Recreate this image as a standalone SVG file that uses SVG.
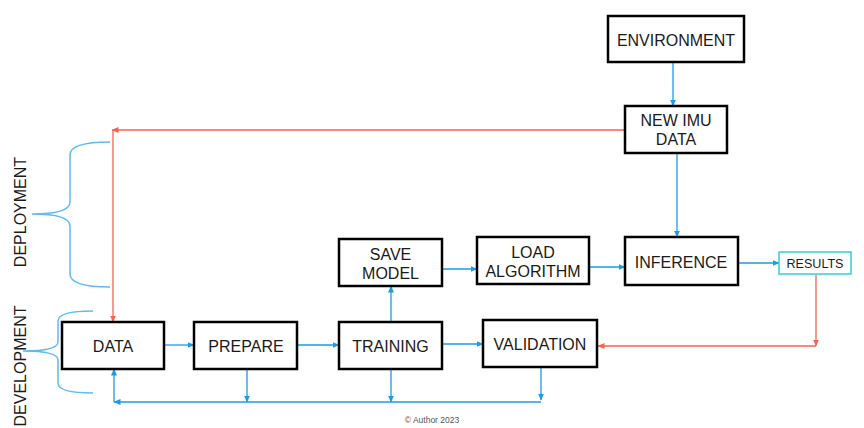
<svg xmlns="http://www.w3.org/2000/svg" width="864" height="428" viewBox="0 0 864 428">
<style>
.box{fill:#fff;stroke:#000;stroke-width:2.5}
.res{fill:#fff;stroke:#2ED3CF;stroke-width:1.5}
.t{font-family:"Liberation Sans",Arial,sans-serif;font-size:16px;fill:#1a1a1a;text-anchor:middle}
.side{font-family:"Liberation Sans",Arial,sans-serif;font-size:16px;fill:#1a1a1a;text-anchor:middle}
.b{fill:none;stroke:#1A9BE8;stroke-width:1.3}
.r{fill:none;stroke:#F26552;stroke-width:1.3}
.br{fill:none;stroke:#5BBDF0;stroke-width:1.5}
</style>
<defs>
<marker id="ab" markerUnits="userSpaceOnUse" markerWidth="7" markerHeight="7" refX="6.5" refY="3.5" orient="auto"><path d="M0,0.5 L7,3.5 L0,6.5 z" fill="#1A9BE8"/></marker>
<marker id="ar" markerUnits="userSpaceOnUse" markerWidth="7" markerHeight="7" refX="6.5" refY="3.5" orient="auto"><path d="M0,0.5 L7,3.5 L0,6.5 z" fill="#F26552"/></marker>
</defs>
<rect width="864" height="428" fill="#fff"/>
<g id="connectors">
<path class="b" d="M673,63 V106" marker-end="url(#ab)"/>
<path class="b" d="M677,154 V237" marker-end="url(#ab)"/>
<path class="b" d="M443,269 H477" marker-end="url(#ab)"/>
<path class="b" d="M590,267 H625" marker-end="url(#ab)"/>
<path class="b" d="M739,263 H779" marker-end="url(#ab)"/>
<path class="b" d="M391,321 V286" marker-end="url(#ab)"/>
<path class="b" d="M165,345 H194" marker-end="url(#ab)"/>
<path class="b" d="M298,345 H339" marker-end="url(#ab)"/>
<path class="b" d="M443,344 H483" marker-end="url(#ab)"/>
<path class="b" d="M247,370 V402" marker-end="url(#ab)"/>
<path class="b" d="M391,370 V402" marker-end="url(#ab)"/>
<path class="b" d="M541,368 V400" marker-end="url(#ab)"/>
<path class="b" d="M541,402 H114" marker-end="url(#ab)"/>
<path class="b" d="M114,402 V369" marker-end="url(#ab)"/>
<path class="r" d="M624,130 H112" marker-end="url(#ar)"/>
<path class="r" d="M113,130 V322" marker-end="url(#ar)"/>
<path class="r" d="M816,275 V346" marker-end="url(#ar)"/>
<path class="r" d="M816,346 H598" marker-end="url(#ar)"/>
</g>
<g id="deployment">
<path class="br" d="M110,142 Q70,142 70,155 L70,202 Q70,214 32,214 Q70,214 70,226 L70,274 Q70,287 110,287"/>
<text class="side" transform="translate(26,212) rotate(-90)">DEPLOYMENT</text>
</g>
<g id="development">
<path class="br" d="M93,311 Q58,311 58,321 L58,342 Q58,351 23,351 Q58,351 58,360 L58,383 Q58,393 93,393"/>
<text class="side" transform="translate(26,366) rotate(-90)">DEVELOPMENT</text>
</g>
<g id="environment"><rect class="box" x="608" y="16" width="136" height="46"/><text class="t" x="676" y="46">ENVIRONMENT</text></g>
<g id="new-imu-data"><rect class="box" x="625" y="106" width="102" height="47"/><text class="t" x="676" y="126">NEW IMU</text><text class="t" x="676" y="145">DATA</text></g>
<g id="save-model"><rect class="box" x="339" y="239" width="103" height="47"/><text class="t" x="390.5" y="260">SAVE</text><text class="t" x="390.5" y="279">MODEL</text></g>
<g id="load-algorithm"><rect class="box" x="477" y="237" width="112" height="47"/><text class="t" x="533" y="258">LOAD</text><text class="t" x="533" y="277">ALGORITHM</text></g>
<g id="inference"><rect class="box" x="625" y="237" width="113" height="48"/><text class="t" x="681" y="268">INFERENCE</text></g>
<g id="results"><rect class="res" x="779" y="252" width="72" height="22"/><text class="t" x="815" y="268" style="font-size:13.5px" textLength="57" lengthAdjust="spacingAndGlyphs">RESULTS</text></g>
<g id="data"><rect class="box" x="62" y="322" width="102" height="47"/><text class="t" x="113" y="352">DATA</text></g>
<g id="prepare"><rect class="box" x="194" y="322" width="103" height="47"/><text class="t" x="246" y="352">PREPARE</text></g>
<g id="training"><rect class="box" x="339" y="322" width="103" height="47"/><text class="t" x="390.5" y="352">TRAINING</text></g>
<g id="validation"><rect class="box" x="483" y="320" width="114" height="47"/><text class="t" x="540" y="350">VALIDATION</text></g>
<text x="432" y="423" style="font-family:'Liberation Sans',Arial,sans-serif;font-size:8.5px;fill:#555;text-anchor:middle">© Author 2023</text>
</svg>
